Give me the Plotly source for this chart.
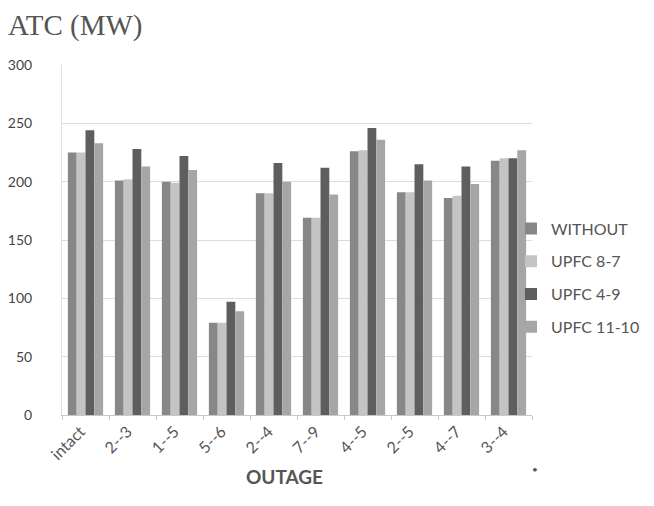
import plotly.graph_objects as go

categories = ["intact", "2--3", "1--5", "5--6", "2--4", "7--9", "4--5", "2--5", "4--7", "3--4"]
without = [225, 201, 200, 79, 190, 169, 226, 191, 186, 218]
upfc_8_7 = [225, 202, 199, 79, 190, 169, 227, 191, 188, 220]
upfc_4_9 = [244, 228, 222, 97, 216, 212, 246, 215, 213, 220]
upfc_11_10 = [233, 213, 210, 89, 200, 189, 236, 201, 198, 227]

series = [
    ("WITHOUT", without, "#878787"),
    ("UPFC 8-7", upfc_8_7, "#c4c4c4"),
    ("UPFC 4-9", upfc_4_9, "#5e5e5e"),
    ("UPFC 11-10", upfc_11_10, "#a6a6a6"),
]

OFF = 8  # page body margin
W, H = 654 - 2 * OFF, 506 - 2 * OFF
L = 62 - OFF
T = 65 - OFF
R = W - (532 - OFF)
B = H - (415 - OFF)
pw = W - L - R
ph = H - T - B

def px(x):
    return (x - OFF - L) / pw

def py(y):
    return (H - B - (y - OFF)) / ph

fig = go.Figure()
for i, (name, vals, col) in enumerate(series):
    fig.add_trace(go.Bar(x=categories, y=vals, name=name, marker_color=col,
                         marker_line_width=0, legendgroup=str(i)))

fig.update_layout(
    width=W, height=H,
    margin=dict(l=L, r=R, t=T, b=B, autoexpand=False),
    paper_bgcolor="white", plot_bgcolor="white",
    barmode="group", bargap=0.25, bargroupgap=0,
    font=dict(family="Lato, Open Sans, sans-serif", color="#444444", size=13),
    showlegend=True,
    legend=dict(x=px(511), xanchor="left", y=py(278), yanchor="middle",
                font=dict(size=16, color="#555555"), tracegroupgap=9,
                itemwidth=30, bgcolor="rgba(0,0,0,0)"),
    annotations=[
        dict(text="ATC (MW)", x=px(6), y=py(7), xref="paper", yref="paper",
             xanchor="left", yanchor="top", showarrow=False,
             font=dict(family="Liberation Serif, DejaVu Serif, serif", size=29, color="#555555")),
        dict(text="<b>OUTAGE</b>", x=px(284), y=py(477), xref="paper", yref="paper",
             xanchor="center", yanchor="middle", showarrow=False,
             font=dict(size=19, color="#555555")),
        dict(text="•", x=px(540), y=py(477), xref="paper", yref="paper",
             showarrow=False, font=dict(size=10, color="#555555")),
    ],
)

fig.update_xaxes(
    showline=True, linecolor="#c8c8c8", linewidth=1,
    ticks="outside", tickson="boundaries", ticklen=4, tickcolor="#c8c8c8",
    tickangle=-45, tickfont=dict(size=16, color="#555555"), ticklabelshift=-5,
)
fig.update_yaxes(
    range=[0, 300], dtick=50, showgrid=True, gridcolor="#dcdcdc", gridwidth=1,
    showline=True, linecolor="#e0e0e0", zeroline=False,
    tickfont=dict(size=14, color="#444444"), ticks="", ticklabelstandoff=26,
)

fig.write_html("out.html")
